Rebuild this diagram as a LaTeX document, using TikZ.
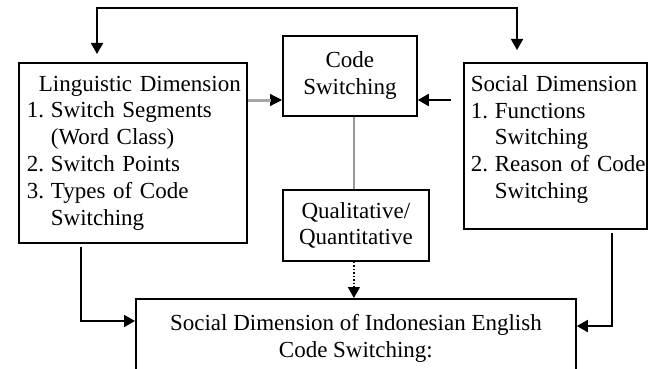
\documentclass[tikz,border=0pt]{standalone}
\usepackage{fontspec}
\setmainfont{Liberation Serif}
\usetikzlibrary{arrows.meta,calc}
\newcommand{\itm}[2]{\mbox{\makebox[24pt][l]{#1}#2}}
\newcommand{\ind}[1]{\mbox{\hspace*{24pt}#1}}
\begin{document}
\begin{tikzpicture}[x=1pt,y=-1pt,
  box/.style={draw=black,line width=1.8pt,rectangle,inner ysep=0pt,anchor=north west,
    font=\fontsize{23}{26.8}\selectfont},
  arr/.style={line width=1.8pt,draw=black,-{Triangle[length=11pt,width=12pt]}},
]
\clip (0,0) rectangle (650,369);
\fill[white] (0,0) rectangle (650,369);

\node[box,minimum width=228pt,minimum height=180pt,text width=212pt,inner xsep=8pt,align=left]
  (ling) at (18,62) {\mbox{\hspace*{12pt}Linguistic Dimension}\\
  \itm{1.}{Switch Segments}\\
  \ind{(Word Class)}\\
  \itm{2.}{Switch Points}\\
  \itm{3.}{Types of Code}\\
  \ind{Switching}};

\node[box,minimum width=183pt,minimum height=166pt,text width=169pt,inner xsep=7pt,align=left]
  (soc) at (463,62) {\mbox{Social Dimension}\\
  \itm{1.}{Functions}\\
  \ind{Switching}\\
  \itm{2.}{Reason of Code}\\
  \ind{Switching\rule[-18pt]{0pt}{1pt}}};

\node[box,minimum width=134pt,minimum height=80pt,align=center,inner xsep=0pt]
  (cs) at (282,35) {Code\\Switching};

\node[box,minimum width=146pt,minimum height=71pt,align=center,inner xsep=0pt]
  (qual) at (282,189) {Qualitative/\\Quantitative};

\node[box,minimum width=440pt,minimum height=79pt,align=center,inner xsep=0pt]
  (bot) at (135,298) {Social Dimension of Indonesian English\\Code Switching:};

\coordinate (topc) at (300,8);

% top feedback connector
\draw[line width=1.8pt,{Triangle[length=11pt,width=12pt]}-{Triangle[length=11pt,width=12pt]},
  shorten <=8pt, shorten >=12pt]
  ([xshift=79pt]ling.north west) |- (topc) -| ([xshift=54pt]soc.north west);

% linguistic -> code switching (gray shaft, black head)
\draw[arr,line width=1.2pt,-{Triangle[length=12pt,width=12pt]},
  postaction={draw=gray!70,line width=3pt,-,shorten >=11pt}]
  ([yshift=-38pt]ling.north east) -- ([yshift=-65pt]cs.north west);

% social -> code switching
\draw[arr,shorten <=12pt] ([yshift=-38pt]soc.north west) -- ([yshift=-65pt]cs.north east);

% code switching -- qualitative
\draw[line width=1.2pt,draw=gray!80] ([xshift=4pt]cs.south) -- ([xshift=-2pt]qual.north);

% qualitative -> bottom (dotted)
\draw[line width=1.5pt,dotted,-{Triangle[length=11pt,width=12pt]}]
  ([xshift=-2pt]qual.south) -- ([xshift=-2pt]bot.north);

% linguistic -> bottom
\draw[arr,shorten <=3pt] ([xshift=63pt]ling.south west) |- ([yshift=-23pt]bot.north west);

% social -> bottom
\draw[arr,shorten <=3pt] ([xshift=149pt]soc.south west) |- ([yshift=-28pt]bot.north east);
\end{tikzpicture}
\end{document}
